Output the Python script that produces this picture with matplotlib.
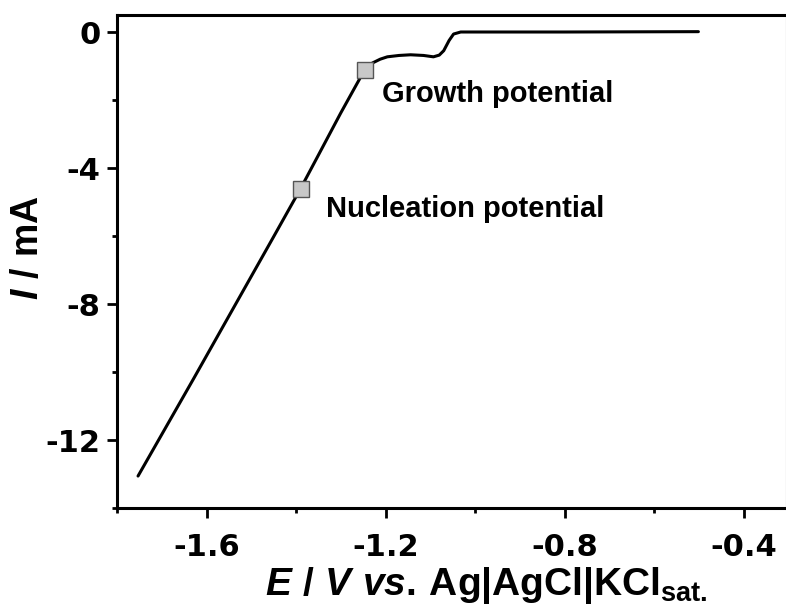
import matplotlib
matplotlib.use("Agg")
import matplotlib.pyplot as plt
from matplotlib.ticker import MultipleLocator

plt.rcParams['font.family'] = ['Liberation Sans', 'DejaVu Sans']
plt.rcParams['font.weight'] = 'bold'
plt.rcParams['mathtext.fontset'] = 'custom'
plt.rcParams['mathtext.rm'] = 'Liberation Sans:bold'
plt.rcParams['mathtext.bf'] = 'Liberation Sans:bold'
plt.rcParams['mathtext.it'] = 'Liberation Sans:bold:italic'
plt.rcParams['mathtext.sf'] = 'Liberation Sans:bold'

# Data (E in V vs Ag|AgCl|KCl sat., I in mA)
e_v = [-1.753, -1.629, -1.45, -1.39, -1.352, -1.30, -1.247, -1.229, -1.212,
       -1.196, -1.17, -1.144, -1.115, -1.093, -1.080, -1.070, -1.058, -1.048,
       -1.032, -0.80, -0.501]
i_ma = [-13.06, -10.20, -6.02, -4.61, -3.67, -2.38, -1.12, -0.91, -0.80,
        -0.73, -0.69, -0.67, -0.69, -0.73, -0.68, -0.55, -0.25, -0.06,
        0.0, 0.0, 0.01]

marker_e = [-1.39, -1.247]
marker_i = [-4.61, -1.12]
marker_labels = ["Nucleation potential", "Growth potential"]
label_offsets = [(0.056, -0.82), (0.040, -0.93)]

x_ticks = [-1.6, -1.2, -0.8, -0.4]
y_ticks = [0, -4, -8, -12]

fig = plt.figure(figsize=(7.86, 6.16), dpi=100)
ax = fig.add_axes([117/786, 1 - 508/616, (787 - 117)/786, (508 - 15)/616])

ax.plot(e_v, i_ma, color='black', lw=2.2, solid_capstyle='round', zorder=2)
ax.plot(marker_e, marker_i, linestyle='none', marker='s', markersize=12,
        markerfacecolor='#c8c8c8', markeredgecolor='#555555', markeredgewidth=1.0, zorder=3)

for xe, yi, lab, (dx, dy) in zip(marker_e, marker_i, marker_labels, label_offsets):
    ax.text(xe + dx, yi + dy, lab, fontsize=21, fontweight='bold', va='baseline', ha='left')

ax.set_xlim(-1.8, -0.303)
ax.set_ylim(-14, 0.5)
ax.set_xticks(x_ticks)
ax.set_xticklabels(["%.1f" % v for v in x_ticks])
ax.set_yticks(y_ticks)
ax.set_yticklabels(["%d" % v for v in y_ticks])
ax.xaxis.set_minor_locator(MultipleLocator(0.2))
ax.yaxis.set_minor_locator(MultipleLocator(2))

for s in ax.spines.values():
    s.set_linewidth(2.2)
ax.tick_params(which='major', direction='out', length=7, width=2, labelsize=22,
               labelfontfamily='DejaVu Sans')
ax.tick_params(axis='y', which='major', pad=5)
ax.tick_params(axis='x', which='major', pad=11)
ax.tick_params(which='minor', direction='out', length=3.5, width=2)

ax.set_xlabel(r'$E\ \mathrm{/}\ V\ vs.\,\mathrm{Ag|AgCl|KCl}_{\mathrm{sat.}}$', fontsize=28)
ax.xaxis.set_label_coords(0.551, -0.116)
ax.set_ylabel(r'$I\ \mathrm{/\ mA}$', fontsize=27)
ax.yaxis.set_label_coords(-0.106, 0.527)

fig.savefig("out.png", dpi=100)
